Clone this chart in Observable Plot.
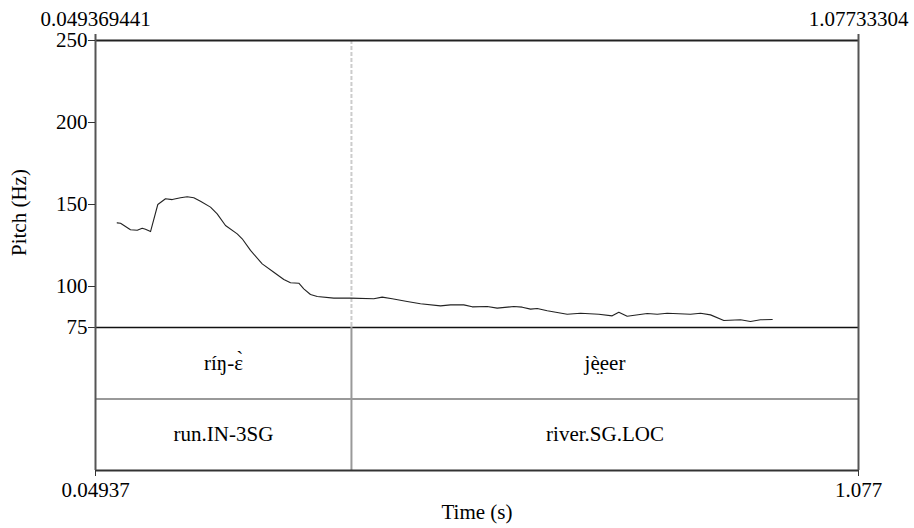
<!DOCTYPE html>
<html><head><meta charset="utf-8">
<script src="https://cdn.jsdelivr.net/npm/d3@7"></script>
<script src="https://cdn.jsdelivr.net/npm/@observablehq/plot@0.6"></script>
<style>
body{margin:0;background:#fff;}
#chart{position:relative;width:914px;height:528px;background:#fff;}
#chart svg{position:absolute;left:0;overflow:visible;}
#chart svg, #chart svg text{font-family:"Liberation Serif","Times New Roman",serif !important;}
</style></head><body><div id="chart"></div>
<script>
const timeStart = 0.049369441, timeEnd = 1.07733304;
const pitchTicks = [75, 100, 150, 200, 250];
const timeTicks = [0.049369441, 1.07733304];
const timeTickLabelsTop = ["0.049369441", "1.07733304"];
const timeTickLabelsBottom = ["0.04937", "1.077"];
const pitchTime = [0.0786,0.0831,0.0965,0.1056,0.1123,0.1167,0.1235,0.1333,0.1437,0.1527,0.1639,0.1729,0.1818,0.1908,0.2043,0.2133,0.2245,0.2403,0.2470,0.2582,0.2740,0.2896,0.3031,0.3121,0.3233,0.3300,0.3390,0.3481,0.3704,0.3929,0.4243,0.4356,0.4491,0.4693,0.4872,0.5142,0.5277,0.5456,0.5569,0.5771,0.5906,0.6130,0.6243,0.6355,0.6445,0.6580,0.6849,0.7028,0.7275,0.7455,0.7544,0.7657,0.7927,0.8062,0.8196,0.8510,0.8645,0.8780,0.8959,0.9184,0.9318,0.9453,0.9611];
const pitchHz = [138.8,138.6,134.6,134.3,135.5,134.9,133.5,150.0,153.5,153.0,154.1,154.7,154.1,152.0,148.4,144.3,137.2,132.1,129.1,122.0,113.8,108.7,104.3,102.3,102.0,98.6,95.1,93.9,92.9,92.9,92.5,93.5,92.5,90.9,89.5,88.2,88.8,88.8,87.6,87.8,86.8,87.8,87.4,86.2,86.6,85.2,83.1,83.7,83.1,82.1,84.3,81.9,83.5,83.1,83.7,83.1,83.7,82.7,79.3,79.7,78.7,79.7,79.9];
const boundaries = [0.3942];
const wordLabels = ["ríŋ-ɛ̀", "jè̤eer"];
const glossLabels = ["run.IN-3SG", "river.SG.LOC"];

const pitch = pitchTime.map((t, i) => ({t, f: pitchHz[i]}));
const edges = [timeStart, ...boundaries, timeEnd];
const intervals = [];
wordLabels.forEach((w, i) => intervals.push({tier: 0.5, start: edges[i], end: edges[i + 1], text: w}));
glossLabels.forEach((g, i) => intervals.push({tier: 1.5, start: edges[i], end: edges[i + 1], text: g}));

const font = "Liberation Serif";
const frameColor = "#555";

const p1 = Plot.plot({
  width: 914, height: 327, marginLeft: 95, marginRight: 56, marginTop: 40, marginBottom: 0,
  style: {fontFamily: font, fontSize: "21px", background: "transparent", overflow: "visible", color: "#000"},
  x: {domain: [timeStart, timeEnd]},
  y: {domain: [75, 250]},
  marks: [
    Plot.ruleX(boundaries, {stroke: "#ccc", strokeWidth: 2, strokeDasharray: "4,2"}),
    Plot.line(pitch, {x: "t", y: "f", stroke: "#222", strokeWidth: 1.1}),
    Plot.ruleY([250], {stroke: "#222", strokeWidth: 2}),
    Plot.ruleY([75], {stroke: "#111", strokeWidth: 1.3}),
    Plot.ruleX([timeStart, timeEnd], {stroke: frameColor, strokeWidth: 2, insetTop: -6}),
    Plot.axisY(pitchTicks, {tickSize: 7, tickPadding: 1, fontSize: 21, label: null, stroke: "#333"}),
    Plot.axisX(timeTicks, {anchor: "top", tickSize: 0, tickPadding: 15, fontSize: 21, label: null,
      tickFormat: d => timeTickLabelsTop[timeTicks.indexOf(d)]}),
    Plot.text(["Pitch (Hz)"], {frameAnchor: "left", rotate: -90, dx: -76, dy: 72, fontSize: 21})
  ]
});
p1.style.top = "0px";

const p2 = Plot.plot({
  width: 914, height: 201, marginLeft: 95, marginRight: 56, marginTop: 0, marginBottom: 58,
  style: {fontFamily: font, fontSize: "21px", background: "transparent", overflow: "visible", color: "#000"},
  x: {domain: [timeStart, timeEnd]},
  y: {domain: [0, 2], reverse: true, axis: null},
  marks: [
    Plot.ruleX(boundaries, {y1: 0, y2: 2, stroke: "#999", strokeWidth: 2}),
    Plot.ruleY([1], {stroke: "#999", strokeWidth: 2}),
    Plot.ruleY([2], {stroke: "#333", strokeWidth: 2}),
    Plot.ruleX([timeStart, timeEnd], {y1: 0, y2: 2, stroke: frameColor, strokeWidth: 2}),
    Plot.text(intervals, {x: d => (d.start + d.end) / 2, y: "tier", text: "text", fontSize: 21}),
    Plot.axisX(timeTicks, {anchor: "bottom", tickSize: 6, tickPadding: 6, fontSize: 21, label: null, stroke: "#333",
      tickFormat: d => timeTickLabelsBottom[timeTicks.indexOf(d)]}),
    Plot.text(["Time (s)"], {frameAnchor: "bottom", dy: 48, fontSize: 21})
  ]
});
p2.style.top = "327px";

const chart = document.getElementById("chart");
chart.appendChild(p1);
chart.appendChild(p2);
</script></body></html>
